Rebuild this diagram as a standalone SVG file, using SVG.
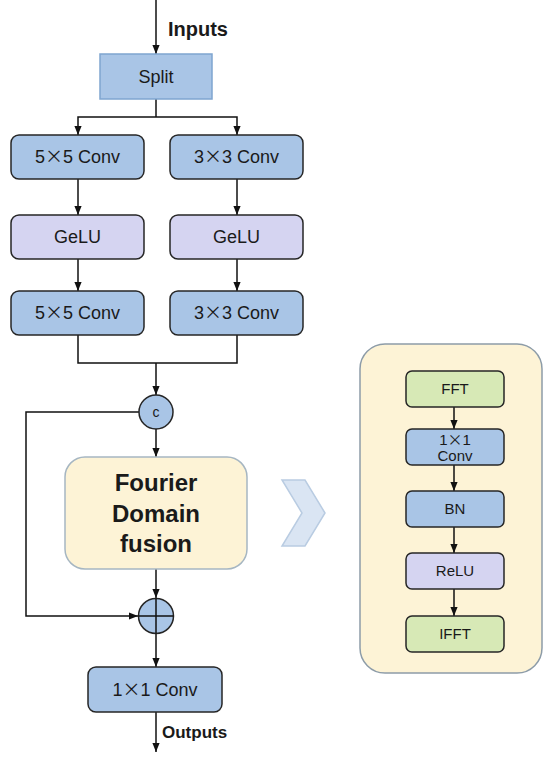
<svg xmlns="http://www.w3.org/2000/svg" width="550" height="760" viewBox="0 0 550 760">
<style>
.t{font-family:"Liberation Sans",Arial,sans-serif;fill:#1a1a1a;text-anchor:middle}
.m{font-size:18px}
.s{font-size:15px}
.b{font-weight:bold}
.x{font-family:"Noto Sans CJK SC",sans-serif}
.blue{fill:#a9c5e6;stroke:#262626;stroke-width:1.5}
.lav{fill:#d5d4f1;stroke:#262626;stroke-width:1.5}
.grn{fill:#d7e9b6;stroke:#262626;stroke-width:1.5}
.ln{fill:none;stroke:#111;stroke-width:1.5}
</style>
<defs>
<marker id="ah" viewBox="0 0 10 10" markerWidth="9" markerHeight="9" refX="10" refY="5" orient="auto" markerUnits="userSpaceOnUse">
<path d="M0,1 L10,5 L0,9 z" fill="#111"/>
</marker>
</defs>
<rect width="550" height="760" fill="#fff"/>
<g id="detail-panel">
<rect x="360" y="344" width="182" height="329" rx="25" fill="#fdf3d6" stroke="#8d9ca8" stroke-width="1.5"/>
</g>
<g id="connectors">
<path class="ln" d="M156,0 V54" marker-end="url(#ah)"/>
<path class="ln" d="M156,99 V117"/>
<path class="ln" d="M156,117 H78 V135" marker-end="url(#ah)"/>
<path class="ln" d="M156,117 H237 V135" marker-end="url(#ah)"/>
<path class="ln" d="M78,179 V215" marker-end="url(#ah)"/>
<path class="ln" d="M237,179 V215" marker-end="url(#ah)"/>
<path class="ln" d="M78,259 V291" marker-end="url(#ah)"/>
<path class="ln" d="M237,259 V291" marker-end="url(#ah)"/>
<path class="ln" d="M78,335 V363 H237 V335"/>
<path class="ln" d="M156,363 V395" marker-end="url(#ah)"/>
<path class="ln" d="M156,429 V457" marker-end="url(#ah)"/>
<path class="ln" d="M156,560 V598" marker-end="url(#ah)"/>
<path class="ln" d="M139,412 H26 V616 H138" marker-end="url(#ah)"/>
<path class="ln" d="M156,634 V667" marker-end="url(#ah)"/>
<path class="ln" d="M156,712 V752" marker-end="url(#ah)"/>
<path class="ln" d="M454,407 V429" marker-end="url(#ah)"/>
<path class="ln" d="M454,465 V491" marker-end="url(#ah)"/>
<path class="ln" d="M454,527 V553" marker-end="url(#ah)"/>
<path class="ln" d="M454,589 V616" marker-end="url(#ah)"/>
</g>
<g id="inputs-label"><text class="t b" x="168" y="36" style="text-anchor:start;font-size:20px">Inputs</text></g>
<g id="split">
<rect x="100" y="54" width="112" height="45" fill="#a9c5e6" stroke="#7fa5d0" stroke-width="1.5"/>
<text class="t m" x="156" y="83">Split</text>
</g>
<g id="conv5a">
<rect class="blue" x="11" y="135" width="133" height="44" rx="8"/>
<text class="t m" x="77.5" y="163">5<tspan class="x">×</tspan>5 Conv</text>
</g>
<g id="conv3a">
<rect class="blue" x="170" y="135" width="133" height="44" rx="8"/>
<text class="t m" x="236.5" y="163">3<tspan class="x">×</tspan>3 Conv</text>
</g>
<g id="gelu1">
<rect class="lav" x="11" y="215" width="133" height="44" rx="8"/>
<text class="t m" x="77.5" y="243">GeLU</text>
</g>
<g id="gelu2">
<rect class="lav" x="170" y="215" width="133" height="44" rx="8"/>
<text class="t m" x="236.5" y="243">GeLU</text>
</g>
<g id="conv5b">
<rect class="blue" x="11" y="291" width="133" height="44" rx="8"/>
<text class="t m" x="77.5" y="319">5<tspan class="x">×</tspan>5 Conv</text>
</g>
<g id="conv3b">
<rect class="blue" x="170" y="291" width="133" height="44" rx="8"/>
<text class="t m" x="236.5" y="319">3<tspan class="x">×</tspan>3 Conv</text>
</g>
<g id="concat">
<circle cx="156" cy="412" r="17" fill="#a9c5e6" stroke="#262626" stroke-width="1.5"/>
<text class="t" x="156" y="417" style="font-size:14px">c</text>
</g>
<g id="fourier">
<rect x="65" y="457" width="182" height="112" rx="20" fill="#fdf3d6" stroke="#a6b6c2" stroke-width="1.5"/>
<text class="t b" x="156" y="491" style="font-size:24px">Fourier</text>
<text class="t b" x="156" y="522" style="font-size:24px">Domain</text>
<text class="t b" x="156" y="552" style="font-size:24px">fusion</text>
</g>
<g id="add">
<circle cx="156" cy="616" r="17.5" fill="#a9c5e6" stroke="#262626" stroke-width="1.5"/>
<path class="ln" d="M138.5,616 H173.5 M156,598.5 V633.5"/>
</g>
<g id="conv1">
<rect class="blue" x="88" y="667" width="134" height="45" rx="8"/>
<text class="t m" x="155" y="696">1<tspan class="x">×</tspan>1 Conv</text>
</g>
<g id="outputs-label"><text class="t b" x="162" y="738" style="text-anchor:start;font-size:17px">Outputs</text></g>
<g id="chevron">
<path d="M282,480 L305,480 L325,513 L305,546 L282,546 L302,513 Z" fill="#dae5f3" stroke="#b9cce2" stroke-width="1.5"/>
</g>
<g id="fft">
<rect class="grn" x="406" y="371" width="98" height="36" rx="6"/>
<text class="t s" x="455" y="394">FFT</text>
</g>
<g id="conv1x1">
<rect class="blue" x="406" y="429" width="98" height="36" rx="6"/>
<text class="t s" x="455" y="445">1<tspan class="x">×</tspan>1</text>
<text class="t s" x="455" y="461">Conv</text>
</g>
<g id="bn">
<rect class="blue" x="406" y="491" width="98" height="36" rx="6"/>
<text class="t s" x="455" y="514">BN</text>
</g>
<g id="relu">
<rect class="lav" x="406" y="553" width="98" height="36" rx="6"/>
<text class="t s" x="455" y="576">ReLU</text>
</g>
<g id="ifft">
<rect class="grn" x="406" y="616" width="98" height="36" rx="6"/>
<text class="t s" x="455" y="639">IFFT</text>
</g>
</svg>
